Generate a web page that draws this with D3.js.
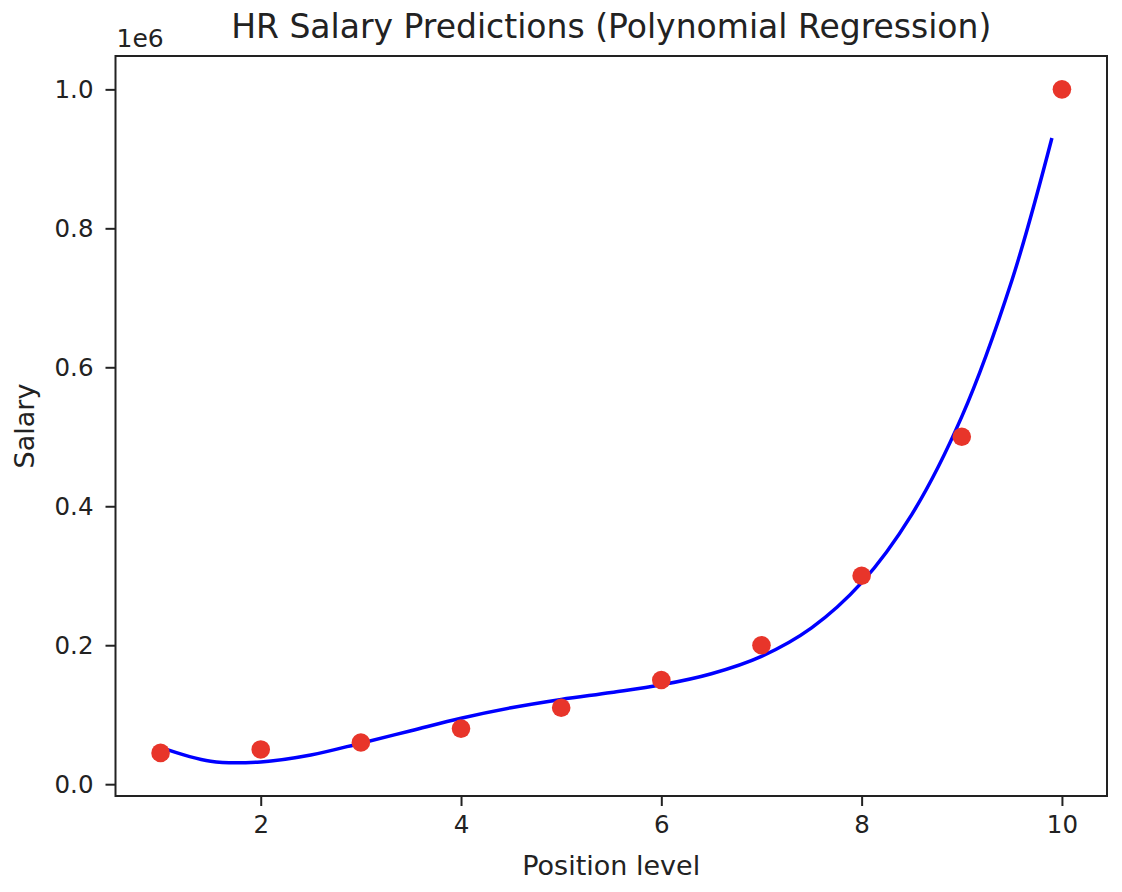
<!DOCTYPE html>
<html>
<head>
<meta charset="utf-8">
<script src="https://cdn.jsdelivr.net/npm/d3@7"></script>
<style>
  html, body { margin: 0; padding: 0; background: #fff; }
  svg { display: block; font-family: "DejaVu Sans", sans-serif; }
</style>
</head>
<body>
<div id="chart"></div>
<script>
// Datenpunkte (Position level / Salary)
const levels = [1, 2, 3, 4, 5, 6, 7, 8, 9, 10];
const salaries = [45000, 50000, 60000, 80000, 110000, 150000, 200000, 300000, 500000, 1000000];

// Vorhersagekurve
const curveX = [1, 1.5, 2, 2.5, 3, 3.5, 4, 4.5, 5, 5.5, 6, 6.5, 7, 7.5, 8, 8.5, 9, 9.5, 9.9];
const curveY = [53000, 33000, 32000, 42000, 59000, 77000, 95000, 110000, 122000, 132000,
                143000, 159000, 184000, 225000, 290000, 388000, 529000, 725000, 930000];

const xTicks = [2, 4, 6, 8, 10];
const yTicks = [0, 200000, 400000, 600000, 800000, 1000000];

const width = 1122;
const height = 892;
const margin = { top: 56, right: 15, bottom: 96, left: 115.5 };

const svg = d3.select("#chart").append("svg")
    .attr("width", width)
    .attr("height", height);

const x = d3.scaleLinear()
    .domain([0.55, 10.45])
    .range([margin.left, width - margin.right]);

const y = d3.scaleLinear()
    .domain([-17000, 1048000])
    .range([height - margin.bottom, margin.top]);

const textColor = "#222";
const tickFont = 24.5;
const labelFont = 27;

// Achsen
const xAxis = svg.append("g")
    .attr("transform", `translate(0,${height - margin.bottom})`)
    .call(d3.axisBottom(x).tickValues(xTicks).tickSize(10).tickPadding(10).tickFormat(d3.format("d")));

const yAxis = svg.append("g")
    .attr("transform", `translate(${margin.left},0)`)
    .call(d3.axisLeft(y).tickValues(yTicks).tickSize(10).tickPadding(12).tickFormat(d => (d / 1e6).toFixed(1)));

[xAxis, yAxis].forEach(g => {
    g.select(".domain").remove();
    g.selectAll(".tick line").attr("stroke", textColor).attr("stroke-width", 2);
    g.selectAll(".tick text")
        .attr("fill", textColor)
        .style("font-size", tickFont + "px")
        .style("font-family", "DejaVu Sans");
});

// Rahmen
svg.append("rect")
    .attr("x", margin.left)
    .attr("y", margin.top)
    .attr("width", width - margin.right - margin.left)
    .attr("height", height - margin.bottom - margin.top)
    .attr("fill", "none")
    .attr("stroke", textColor)
    .attr("stroke-width", 2);

// Kurve
const line = d3.line()
    .x((d, i) => x(curveX[i]))
    .y(d => y(d))
    .curve(d3.curveCatmullRom.alpha(0.5));

svg.append("path")
    .datum(curveY)
    .attr("d", line)
    .attr("fill", "none")
    .attr("stroke", "#0000ff")
    .attr("stroke-width", 3.5);

// Punkte
svg.selectAll("circle.pt")
    .data(levels)
    .enter().append("circle")
    .attr("class", "pt")
    .attr("cx", d => x(d))
    .attr("cy", (d, i) => y(salaries[i]))
    .attr("r", 9.3)
    .attr("fill", "#e8352a");

// Titel und Beschriftungen
svg.append("text")
    .attr("x", (margin.left + width - margin.right) / 2)
    .attr("y", 37.5)
    .attr("text-anchor", "middle")
    .attr("fill", textColor)
    .style("font-size", "33px")
    .text("HR Salary Predictions (Polynomial Regression)");

svg.append("text")
    .attr("x", margin.left + 1)
    .attr("y", 46.5)
    .attr("fill", textColor)
    .style("font-size", "25px")
    .text("1e6");

svg.append("text")
    .attr("x", (margin.left + width - margin.right) / 2)
    .attr("y", 875)
    .attr("text-anchor", "middle")
    .attr("fill", textColor)
    .style("font-size", labelFont + "px")
    .text("Position level");

svg.append("text")
    .attr("transform", `translate(34,${(margin.top + height - margin.bottom) / 2}) rotate(-90)`)
    .attr("text-anchor", "middle")
    .attr("fill", textColor)
    .style("font-size", labelFont + "px")
    .text("Salary");
</script>
</body>
</html>
